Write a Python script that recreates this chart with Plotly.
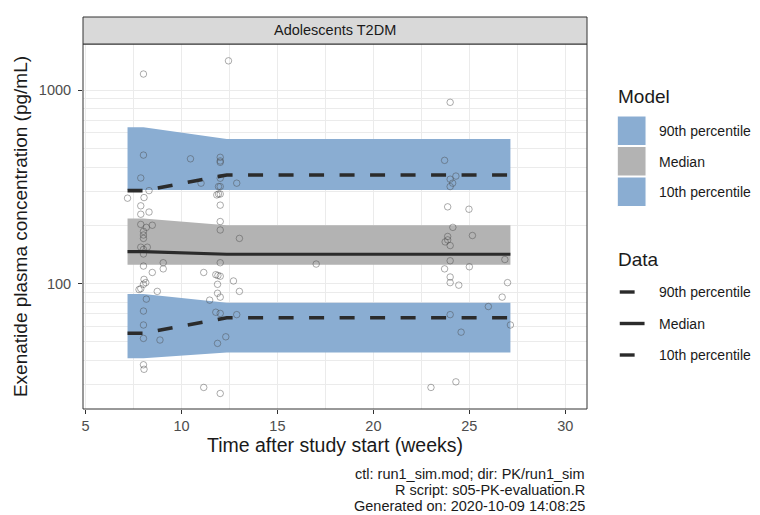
import plotly.graph_objects as go

# ---------------- data ----------------
obs_time = [8.02, 8.02, 7.88, 8.31, 7.19, 8.05, 7.88, 8.31, 7.88, 7.88, 8.48, 8.17, 8.02, 8.02, 8.02,
            7.88, 8.22, 8.02, 8.02, 9.05, 8.02, 9.05, 8.48, 8.05, 8.14, 8.02, 7.88, 7.79, 8.74, 8.17,
            8.02, 8.02, 8.02, 8.88, 8.02, 8.05,
            12.45, 10.47, 12.02, 12.02, 12.02, 12.02, 11.02, 12.88, 11.93, 12.02, 11.84, 11.93, 12.02,
            12.02, 12.02, 12.02, 13.02, 12.02, 11.16, 11.79, 11.90, 12.02, 12.71, 11.88, 13.02, 11.88,
            12.02, 11.47, 11.79, 12.02, 12.88, 12.31, 11.88, 11.16, 12.02,
            17.02,
            24.0, 23.71, 24.30, 24.0, 24.13, 24.0, 23.87, 24.98, 24.14, 25.16, 23.87, 23.74, 23.87,
            24.0, 26.85, 24.0, 25.0, 23.71, 24.0, 24.0, 24.45, 26.99, 26.71, 25.99, 24.0, 27.14,
            24.57, 24.30, 23.0]
obs_conc = [1210, 461, 351, 302, 276, 278, 252, 234, 228, 202, 200, 195, 186, 178, 171,
            154, 154, 150, 142, 128, 123, 119, 114, 105, 101, 99, 94, 93, 91, 83,
            72, 61, 52, 51, 38, 36,
            1416, 441, 449, 430, 423, 350, 330, 330, 317, 317, 287, 290, 290,
            254, 209, 189, 171, 128, 114, 111, 110, 109, 103, 99, 91, 89,
            85, 82, 71, 70, 69, 53, 49, 29, 27,
            126,
            864, 433, 359, 346, 330, 317, 249, 242, 195, 177, 175, 164, 168,
            157, 133, 131, 122, 119, 108, 101, 98, 101, 85, 76, 69, 61,
            56, 31, 29]

band_time = [7.19, 8.02, 12.36, 27.14]
model_p90_hi = [642, 642, 559, 559]
model_p90_lo = [304, 304, 304, 304]
model_p50_hi = [217, 217, 200, 200]
model_p50_lo = [125, 125, 125, 125]
model_p10_hi = [88.3, 88.3, 79.6, 79.6]
model_p10_lo = [41.0, 41.0, 43.9, 43.9]

data_p90 = [302, 302, 364, 364]
data_p50 = [146, 146, 141.6, 141.6]
data_p10 = [55.3, 55.3, 66.5, 66.5]

x_ticks = [5, 10, 15, 20, 25, 30]
x_minor = [7.5, 12.5, 17.5, 22.5, 27.5]
y_ticks = [100, 1000]
y_ticklabels = ["100", "1000"]
y_minor = [30, 40, 50, 60, 70, 80, 90, 200, 300, 400, 500, 600, 700, 800, 900]

legend_labels = ["90th percentile", "Median", "10th percentile"]
caption = ["ctl: run1_sim.mod; dir: PK/run1_sim", "R script: s05-PK-evaluation.R",
           "Generated on: 2020-10-09 14:08:25"]

# ---------------- styling ----------------
BLUE = "rgba(138,173,210,1)"
GREY = "rgba(179,179,179,1)"
LINE = "#2b2b2b"
FONT = "Liberation Sans, Arial, sans-serif"
SMALL = 14.5
LEG = 14
BIG = 19.5

OFF = 8  # page body margin of the browser
W, H = 752, 507
L, T = 79 - OFF, 44 - OFF
PW, PH = 508, 365
R, B = W - L - PW, H - T - PH


def px(xp):
    return (xp - OFF - L) / PW


def py(yp):
    return (H - B - (yp - OFF)) / PH


fig = go.Figure()


def band(lo, hi, color, name):
    fig.add_trace(go.Scatter(
        x=band_time + band_time[::-1], y=hi + lo[::-1], fill="toself",
        fillcolor=color, line=dict(width=0), mode="lines", name=name,
        hoverinfo="skip", showlegend=False))


band(model_p90_lo, model_p90_hi, BLUE, "Model 90th percentile")
band(model_p50_lo, model_p50_hi, GREY, "Model median")
band(model_p10_lo, model_p10_hi, BLUE, "Model 10th percentile")

fig.add_trace(go.Scatter(
    x=obs_time, y=obs_conc, mode="markers", name="Observed",
    marker=dict(symbol="circle-open", size=6.5, color="rgba(70,70,70,0.45)",
                line=dict(width=1, color="rgba(70,70,70,0.45)")),
    showlegend=False))

for vals, dash, wd, nm in [(data_p90, "15px,15.5px", 3.6, "Data 90th percentile"),
                           (data_p50, "solid", 3.2, "Data median"),
                           (data_p10, "15px,15.5px", 3.6, "Data 10th percentile")]:
    fig.add_trace(go.Scatter(x=band_time, y=vals, mode="lines", name=nm,
                             line=dict(color=LINE, width=wd, dash=dash),
                             showlegend=False))

shapes = []
annotations = []

# panel border
shapes.append(dict(type="rect", xref="paper", yref="paper", x0=0, x1=1, y0=0, y1=1,
                   line=dict(color="#333333", width=1), fillcolor="rgba(0,0,0,0)", layer="above"))
# strip
shapes.append(dict(type="rect", xref="paper", yref="paper", x0=0, x1=1, y0=py(44), y1=py(17),
                   line=dict(color="#333333", width=1), fillcolor="#d9d9d9"))
annotations.append(dict(text="Adolescents T2DM", xref="paper", yref="paper", x=0.5, y=py(30.5),
                        showarrow=False, font=dict(size=SMALL, color="#1a1a1a", family=FONT),
                        xanchor="center", yanchor="middle"))

# legend: Model
annotations.append(dict(text="Model", xref="paper", yref="paper", x=px(616), y=py(97),
                        showarrow=False, xanchor="left", yanchor="middle",
                        font=dict(size=19, color="#1a1a1a", family=FONT)))
box_cols = [BLUE, GREY, BLUE]
box_tops = [116, 146.5, 177]
for i, lab in enumerate(legend_labels):
    y0 = box_tops[i]
    shapes.append(dict(type="rect", xref="paper", yref="paper", x0=px(617.5), x1=px(646.5),
                       y0=py(y0 + 29.5), y1=py(y0), fillcolor=box_cols[i],
                       line=dict(color="white", width=1)))
    annotations.append(dict(text=lab, xref="paper", yref="paper", x=px(658), y=py(y0 + 15),
                            showarrow=False, xanchor="left", yanchor="middle",
                            font=dict(size=LEG, color="#1a1a1a", family=FONT)))

# legend: Data
annotations.append(dict(text="Data", xref="paper", yref="paper", x=px(616), y=py(259),
                        showarrow=False, xanchor="left", yanchor="middle",
                        font=dict(size=19, color="#1a1a1a", family=FONT)))
data_y = [292, 323.5, 355]
seg_end = [635, 645, 635]
for i, lab in enumerate(legend_labels):
    shapes.append(dict(type="line", xref="paper", yref="paper", x0=px(620), x1=px(seg_end[i]),
                       y0=py(data_y[i]), y1=py(data_y[i]), line=dict(color=LINE, width=3.4)))
    annotations.append(dict(text=lab, xref="paper", yref="paper", x=px(658), y=py(data_y[i]),
                            showarrow=False, xanchor="left", yanchor="middle",
                            font=dict(size=LEG, color="#1a1a1a", family=FONT)))

# caption
for i, line in enumerate(caption):
    annotations.append(dict(text=line, xref="paper", yref="paper", x=px(587), y=py(474 + 16 * i),
                            showarrow=False, xanchor="right", yanchor="middle",
                            font=dict(size=SMALL, color="#1a1a1a", family=FONT)))

fig.update_layout(
    width=W, height=H, margin=dict(l=L, r=R, t=T, b=B, pad=0),
    paper_bgcolor="white", plot_bgcolor="white",
    font=dict(family=FONT, color="#1a1a1a"),
    shapes=shapes, annotations=annotations, showlegend=False,
    xaxis=dict(range=[4.87, 31.13], tickvals=x_ticks, ticktext=[str(v) for v in x_ticks],
               showgrid=True, gridcolor="#ebebeb", gridwidth=1.1, zeroline=False,
               ticks="outside", ticklen=4, tickcolor="#333333", tickwidth=1,
               tickfont=dict(size=SMALL, color="#4d4d4d", family=FONT),
               minor=dict(tickvals=x_minor, showgrid=True, gridcolor="#ebebeb", gridwidth=0.6),
               title=dict(text="Time after study start (weeks)", standoff=4,
                          font=dict(size=BIG, color="#1a1a1a", family=FONT)),
               showline=False),
    yaxis=dict(type="log", range=[1.351, 3.238], tickvals=y_ticks, ticktext=y_ticklabels,
               showgrid=True, gridcolor="#ebebeb", gridwidth=1.1, zeroline=False,
               ticks="outside", ticklen=4, tickcolor="#333333", tickwidth=1,
               tickfont=dict(size=SMALL, color="#4d4d4d", family=FONT),
               ticklabelstandoff=4,
               minor=dict(tickvals=y_minor, showgrid=True, gridcolor="#ebebeb", gridwidth=0.6),
               title=dict(text="Exenatide plasma concentration (pg/mL)", standoff=6,
                          font=dict(size=19, color="#1a1a1a", family=FONT)),
               showline=False),
)

fig.write_html("out.html")
